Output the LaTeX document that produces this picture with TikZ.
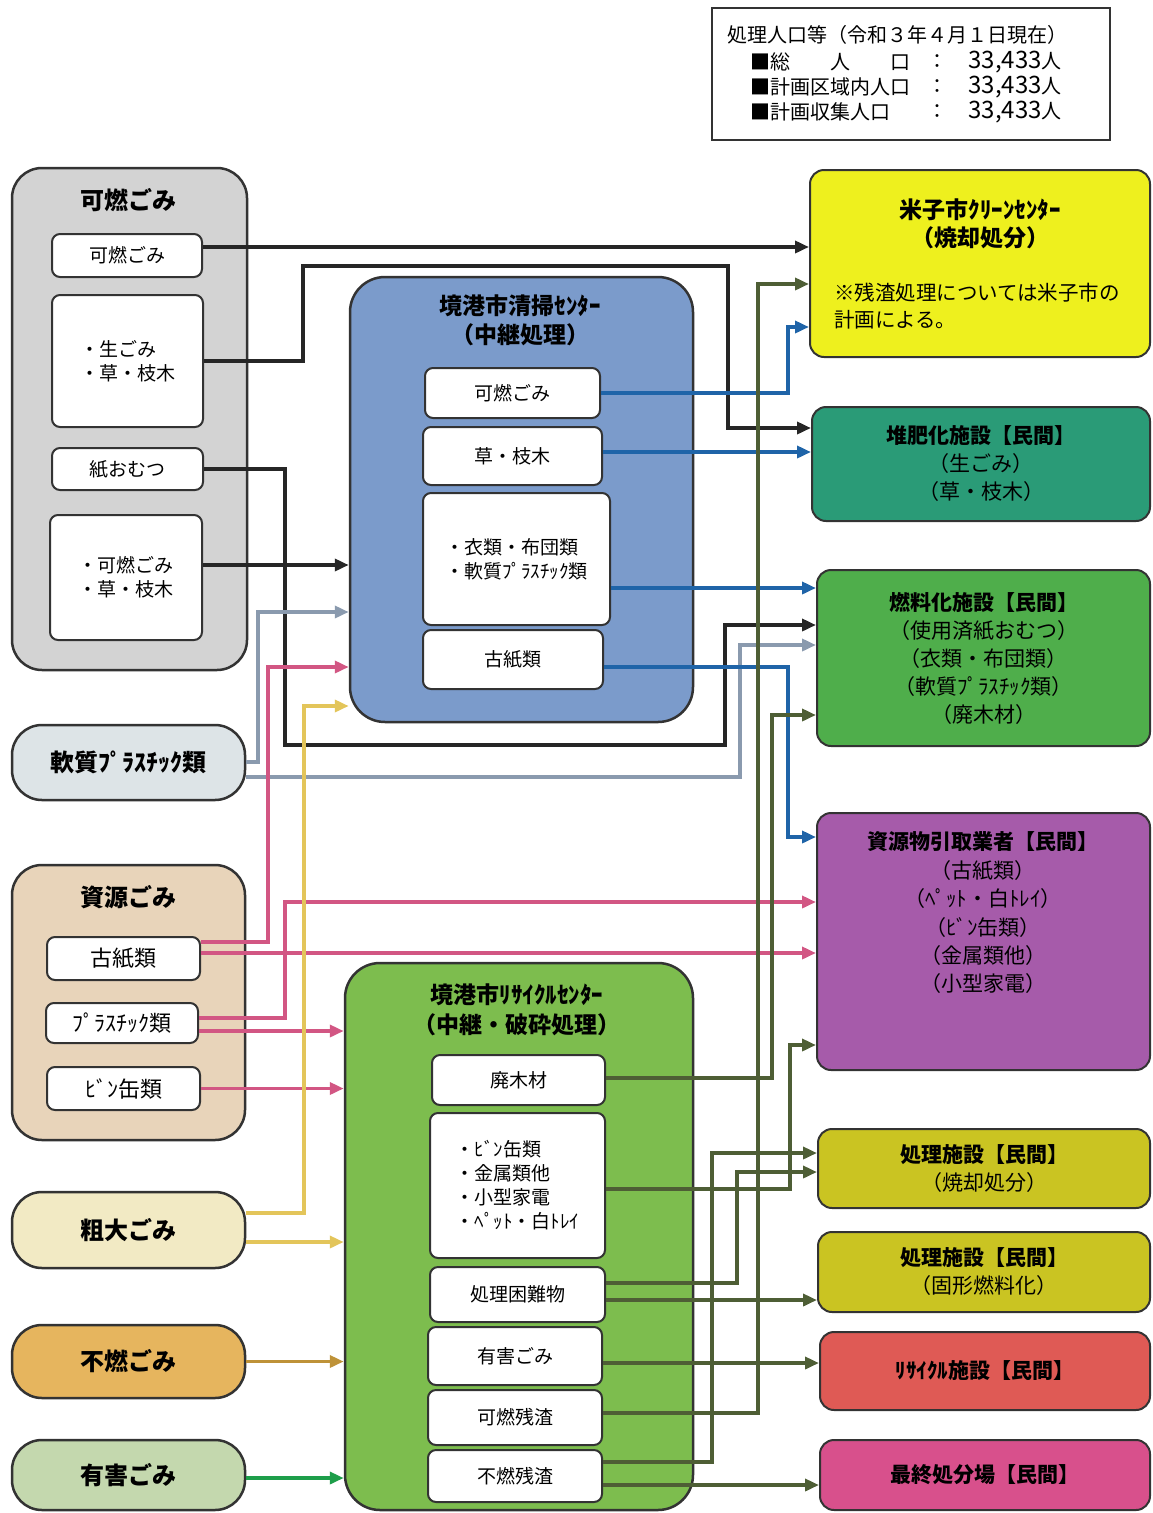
\documentclass[tikz,border=0pt]{standalone}
\usepackage{fontspec}
\setmainfont{Noto Sans CJK JP}
\usepackage{tikz}
\usetikzlibrary{arrows.meta}

\definecolor{cBlk}{HTML}{262626}
\definecolor{cBlue}{HTML}{1F64A8}
\definecolor{cSlate}{HTML}{8A9AAE}
\definecolor{cPink}{HTML}{D25683}
\definecolor{cGold}{HTML}{E3C55A}
\definecolor{cOchre}{HTML}{BE9238}
\definecolor{cGreen}{HTML}{1E9E4A}
\definecolor{cOlive}{HTML}{4E5E35}
\definecolor{fGray}{HTML}{D3D3D3}
\definecolor{fSoft}{HTML}{DDE4E7}
\definecolor{fTan}{HTML}{E8D4BA}
\definecolor{fCream}{HTML}{F2EAC4}
\definecolor{fOrange}{HTML}{E6B55E}
\definecolor{fSage}{HTML}{C4D8AE}
\definecolor{fBlue}{HTML}{7B9BCB}
\definecolor{fLime}{HTML}{7DBD4E}
\definecolor{fYellow}{HTML}{EEF01E}
\definecolor{fTeal}{HTML}{2A9B77}
\definecolor{fGreen}{HTML}{4FAE4B}
\definecolor{fPurple}{HTML}{A65BAA}
\definecolor{fOlive}{HTML}{CAC422}
\definecolor{fRed}{HTML}{DF5A55}
\definecolor{fPink}{HTML}{D8508C}

\begin{document}
\begin{tikzpicture}[x=1pt,y=-1pt,
  sz/.style 2 args={minimum width=#1pt, minimum height=#2pt, inner sep=0pt},
  grp/.style={draw=black!80, line width=2.5pt, rounded corners=30pt},
  src/.style={draw=black!80, line width=2.5pt, rounded corners=30pt, font=\fontsize{24}{28}\selectfont\bfseries},
  inbox/.style={draw=black!80, line width=2pt, fill=white, rounded corners=8pt, align=center, font=\fontsize{19}{24}\selectfont},
  dest/.style={draw=black!80, line width=2pt, rounded corners=14pt, align=center, font=\fontsize{21}{28}\selectfont},
  ttl/.style={align=center, font=\fontsize{24}{29}\selectfont\bfseries},
  pop/.style={inner sep=0pt, font=\fontsize{20}{24}\selectfont},
  flow/.style={line width=3.5pt, -{Triangle[length=14pt,width=12pt]}}]

\useasboundingbox (0,0) rectangle (1152,1513);

\draw [line width=1.5pt, color=black!80] (712,8) rectangle (1110,140);
\node [pop, anchor=west] (popHead) at (727,35) {処理人口等（令和３年４月１日現在）};
\foreach \lab [count=\i] in {総　　人　　口,計画区域内人口,計画収集人口}{
  \node [pop, anchor=west] (popL\i) at (750,37+25*\i) {■\lab};
  \node [pop] (popC\i) at (937,37+25*\i) {：};
  \node [pop, anchor=east] (popN\i) at (1062,37+25*\i) {{\fontsize{24}{24}\selectfont 33,433}人};
}

\node [grp, fill=fGray, sz={235}{502}] (gKanen) at (129.5,419) {};
\node [ttl] (gKanenT) at (128,200) {可燃ごみ};
\node [inbox, sz={150}{43}] (kanen1) at (127,255.5) {可燃ごみ};
\node [inbox, sz={151}{132}, align=left] (namagomi) at (127.5,361) {・生ごみ\\・草・枝木};
\node [inbox, sz={151}{42}] (omutsu) at (127.5,469) {紙おむつ};
\node [inbox, sz={152}{125}, align=left] (kanen2) at (126,577.5) {・可燃ごみ\\・草・枝木};

\node [src, fill=fSoft, sz={233}{75}] (nanshitsu) at (128.5,762.5) {軟質ﾌﾟﾗｽﾁｯｸ類};

\node [grp, fill=fTan, sz={233}{275}] (gShigen) at (128.5,1002.5) {};
\node [ttl] (gShigenT) at (128,897) {資源ごみ};
\node [inbox, font=\fontsize{22}{24}\selectfont, sz={153}{43}] (kosi) at (123.5,958.5) {古紙類};
\node [inbox, font=\fontsize{22}{24}\selectfont, sz={152}{40}] (pura) at (122,1023) {ﾌﾟﾗｽﾁｯｸ類};
\node [inbox, font=\fontsize{22}{24}\selectfont, sz={153}{43}] (bin) at (123.5,1088.5) {ﾋﾞﾝ缶類};

\node [src, fill=fCream, sz={233}{76}] (sodai) at (128.5,1230) {粗大ごみ};
\node [src, fill=fOrange, sz={233}{73}] (funen) at (128.5,1361.5) {不燃ごみ};
\node [src, fill=fSage, sz={233}{70}] (yugaiL) at (128.5,1475) {有害ごみ};

\node [grp, rounded corners=35pt, fill=fBlue, sz={343}{445}] (seikou) at (521.5,499.5) {};
\node [ttl, font=\fontsize{23}{29}\selectfont\bfseries] (seikouT) at (520,320) {境港市清掃ｾﾝﾀｰ\\（中継処理）};
\node [inbox, sz={175}{50}] (sk1) at (512.5,393) {可燃ごみ};
\node [inbox, sz={179}{58}] (sk2) at (512.5,456) {草・枝木};
\node [inbox, sz={187}{132}, align=left] (sk3) at (516.5,559) {・衣類・布団類\\・軟質ﾌﾟﾗｽﾁｯｸ類};
\node [inbox, sz={180}{59}] (sk4) at (513,659.5) {古紙類};

\node [grp, rounded corners=35pt, fill=fLime, sz={348}{547}] (recyc) at (519,1236.5) {};
\node [ttl, font=\fontsize{23}{30}\selectfont\bfseries] (recycT) at (517,1010) {境港市ﾘｻｲｸﾙｾﾝﾀｰ\\（中継・破砕処理）};
\node [inbox, sz={173}{50}] (rc1) at (518.5,1080) {廃木材};
\node [inbox, sz={175}{145}, align=left] (rc2) at (517.5,1185.5) {・ﾋﾞﾝ缶類\\・金属類他\\・小型家電\\・ﾍﾟｯﾄ・白ﾄﾚｲ};
\node [inbox, sz={175}{55}] (rc3) at (517.5,1294.5) {処理困難物};
\node [inbox, sz={174}{58}] (rc4) at (515,1356) {有害ごみ};
\node [inbox, sz={174}{55}] (rc5) at (515,1417.5) {可燃残渣};
\node [inbox, sz={174}{52}] (rc6) at (515,1476) {不燃残渣};

\node [dest, fill=fYellow, sz={340}{187}] (yonago) at (980,263.5) {};
\node [ttl, font=\fontsize{23}{28}\selectfont\bfseries] (yonagoT) at (980,224) {米子市ｸﾘｰﾝｾﾝﾀｰ\\（焼却処分）};
\node [align=left, font=\fontsize{20.5}{27}\selectfont] (yonagoN) at (977,306) {※残渣処理については米子市の\\計画による。};
\node [dest, fill=fTeal, sz={338}{114}] (taihi) at (981,464) {\textbf{堆肥化施設【民間】}\\（生ごみ）\\（草・枝木）};
\node [dest, fill=fGreen, sz={333}{176}] (nenryo) at (983.5,658) {\textbf{燃料化施設【民間】}\\（使用済紙おむつ）\\（衣類・布団類）\\（軟質ﾌﾟﾗｽﾁｯｸ類）\\（廃木材）};
\node [dest, fill=fPurple, sz={333}{257}] (shigen) at (983.5,941.5) {};
\node [align=center, font=\fontsize{21}{28.4}\selectfont] (shigenT) at (983,913) {\textbf{資源物引取業者【民間】}\\（古紙類）\\（ﾍﾟｯﾄ・白ﾄﾚｲ）\\（ﾋﾞﾝ缶類）\\（金属類他）\\（小型家電）};
\node [dest, fill=fOlive, sz={332}{79}] (shori1) at (984,1168.5) {\textbf{処理施設【民間】}\\（焼却処分）};
\node [dest, fill=fOlive, sz={332}{80}] (shori2) at (984,1272) {\textbf{処理施設【民間】}\\（固形燃料化）};
\node [dest, fill=fRed, sz={330}{78}] (recfac) at (985,1371) {\textbf{ﾘｻｲｸﾙ施設【民間】}};
\node [dest, fill=fPink, sz={330}{70}] (saishu) at (985,1475) {\textbf{最終処分場【民間】}};

\draw [flow, color=cBlk] (kanen1.east |- 0,247) -- (yonago.west |- 0,247);
\draw [flow, color=cBlk] (namagomi.east) -| (303,266) -| (728,428) -- (taihi.west |- 0,428);
\draw [flow, color=cBlk] (omutsu.east) -| (285,745) -| (725,625) -- (nenryo.west |- 0,625);
\draw [flow, color=cBlk] (kanen2.east |- 0,565) -- (seikou.west |- 0,565);

\draw [flow, color=cSlate] (nanshitsu.east |- 0,762) -| (258,612) -- (seikou.west |- 0,612);
\draw [flow, color=cSlate] (nanshitsu.east |- 0,777) -| (740,645) -- (nenryo.west |- 0,645);

\draw [flow, color=cPink] (kosi.east |- 0,942) -| (268,667) -- (seikou.west |- 0,667);
\draw [flow, color=cPink] (kosi.east |- 0,953) -- (shigen.west |- 0,953);
\draw [flow, color=cPink] (pura.east |- 0,1018) -| (285,902) -- (shigen.west |- 0,902);
\draw [flow, color=cPink] (pura.east |- 0,1031) -- (recyc.west |- 0,1031);
\draw [flow, color=cPink] (bin.east) -- (recyc.west |- bin.east);

\draw [flow, color=cGold] (sodai.east |- 0,1213) -| (304,706) -- (seikou.west |- 0,706);
\draw [flow, color=cGold] (sodai.east |- 0,1242) -- (recyc.west |- 0,1242);
\draw [flow, color=cOchre] (funen.east) -- (recyc.west |- funen.east);
\draw [flow, color=cGreen] (yugaiL.east |- 0,1478) -- (recyc.west |- 0,1478);

\draw [flow, color=cBlue] (sk1.east) -| (788,327) -- (yonago.west |- 0,327);
\draw [flow, color=cBlue] (sk2.east |- 0,452) -- (taihi.west |- 0,452);
\draw [flow, color=cBlue] (sk3.east |- 0,588) -- (nenryo.west |- 0,588);
\draw [flow, color=cBlue] (sk4.east |- 0,667) -| (788,837) -- (shigen.west |- 0,837);

\draw [flow, color=cOlive] (rc5.east |- 0,1413) -| (758,284) -- (yonago.west |- 0,284);
\draw [flow, color=cOlive] (rc1.east |- 0,1078) -| (772,715) -- (nenryo.west |- 0,715);
\draw [flow, color=cOlive] (rc2.east |- 0,1189) -| (790,1045) -- (shigen.west |- 0,1045);
\draw [flow, color=cOlive] (rc6.east |- 0,1462) -| (712,1153) -- (shori1.west |- 0,1153);
\draw [flow, color=cOlive] (rc3.east |- 0,1283) -| (737,1172) -- (shori1.west |- 0,1172);
\draw [flow, color=cOlive] (rc3.east |- 0,1300) -- (shori2.west |- 0,1300);
\draw [flow, color=cOlive] (rc4.east |- 0,1363) -- (recfac.west |- 0,1363);
\draw [flow, color=cOlive] (rc6.east |- 0,1485) -- (saishu.west |- 0,1485);
\end{tikzpicture}
\end{document}
